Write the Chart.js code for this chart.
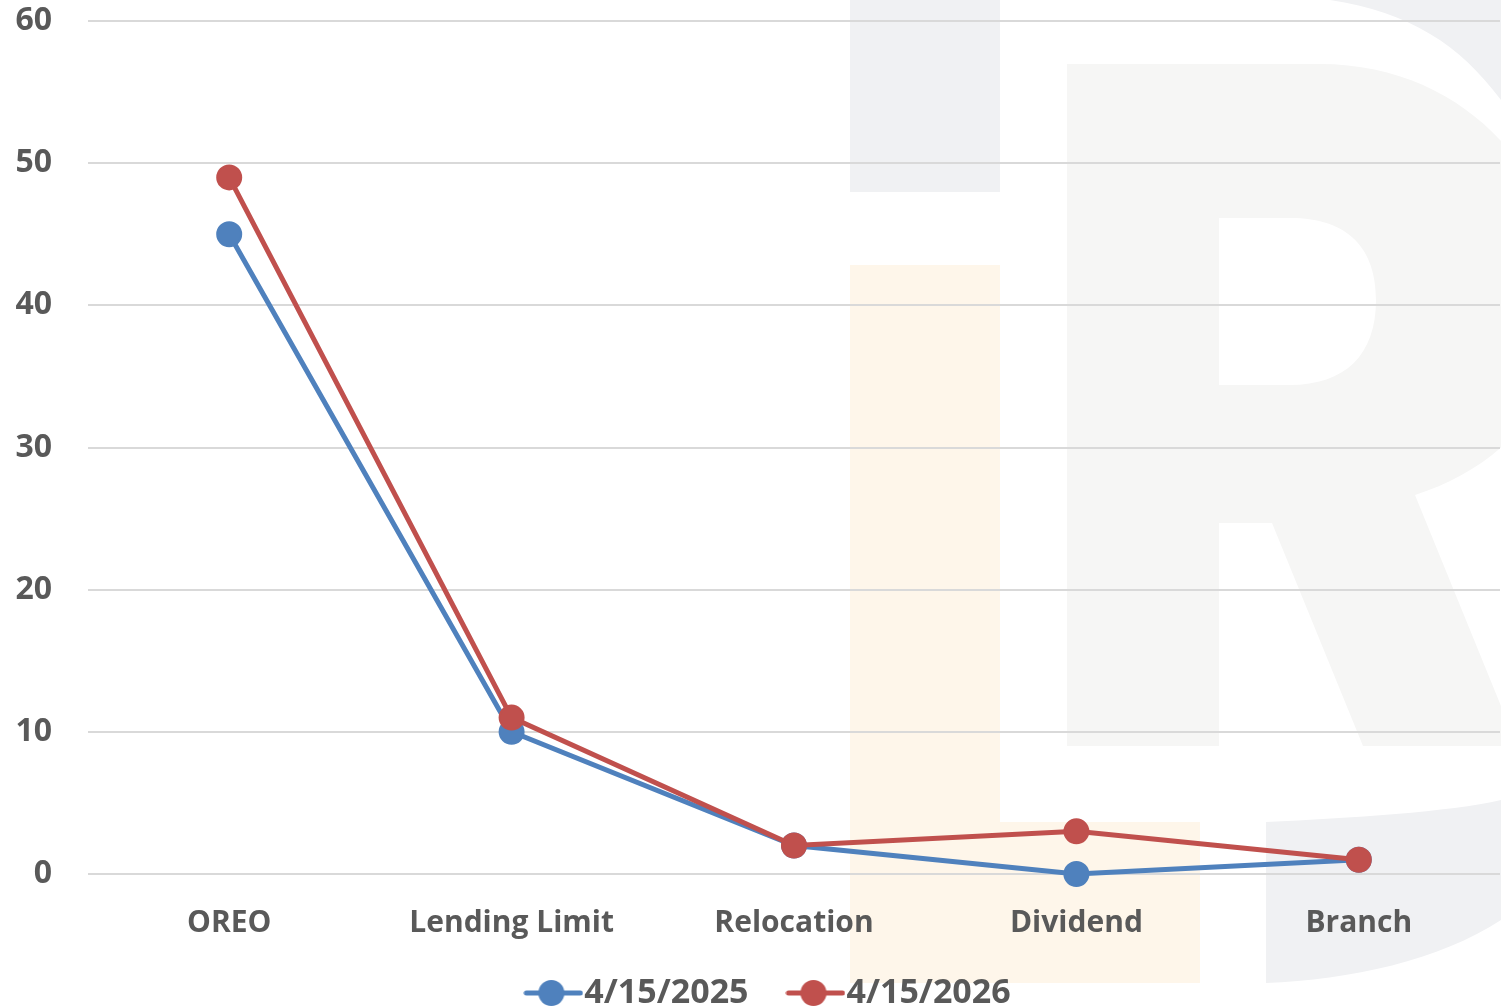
<!DOCTYPE html>
<html>
<head>
<meta charset="utf-8">
<script src="https://cdn.jsdelivr.net/npm/chart.js@4"></script>
<style>
  html, body { margin: 0; padding: 0; background: #fff; overflow: hidden; }
  #wrap { width: 1501px; height: 1007px; }
</style>
</head>
<body>
<div id="wrap"><canvas id="chart"></canvas></div>
<script>
const categories = ['OREO', 'Lending Limit', 'Relocation', 'Dividend', 'Branch'];
const series2025 = [45, 10, 2, 0, 1];
const series2026 = [49, 11, 2, 3, 1];
const seriesNames = ['4/15/2025', '4/15/2026'];
const yTicks = [0, 10, 20, 30, 40, 50, 60];

const BLUE = '#4F81BD';
const RED = '#C0504D';
const TEXT = '#595959';
const FONT = '"Open Sans", Lato, sans-serif';

// little line+dot marker for the legend
function legendMarker(color) {
    const c = document.createElement('canvas');
    c.width = 60; c.height = 28;
    const g = c.getContext('2d');
    g.strokeStyle = color;
    g.lineWidth = 5;
    g.lineCap = 'round';
    g.beginPath(); g.moveTo(3, 14); g.lineTo(57, 14); g.stroke();
    g.fillStyle = color;
    g.beginPath(); g.arc(28, 14, 13, 0, Math.PI * 2); g.fill();
    return c;
}

// faint "IR" logo behind the plot
const watermark = {
    id: 'watermark',
    beforeDraw(chart) {
        const ctx = chart.ctx;
        ctx.save();
        ctx.fillStyle = '#F0F1F3';
        ctx.fillRect(850, 0, 150, 192);
        // outer ring top right
        ctx.beginPath();
        ctx.moveTo(1330, 0); ctx.lineTo(1501, 0); ctx.lineTo(1501, 100);
        ctx.bezierCurveTo(1460, 45, 1410, 12, 1330, 0);
        ctx.closePath(); ctx.fill();
        // lower right swoosh
        ctx.beginPath();
        ctx.moveTo(1266, 822);
        ctx.bezierCurveTo(1350, 818, 1450, 812, 1501, 800);
        ctx.lineTo(1501, 920);
        ctx.bezierCurveTo(1440, 960, 1350, 980, 1266, 983);
        ctx.closePath(); ctx.fill();

        ctx.fillStyle = '#FEF6EA';
        ctx.beginPath();
        ctx.moveTo(850, 265); ctx.lineTo(1000, 265); ctx.lineTo(1000, 822);
        ctx.lineTo(1200, 822); ctx.lineTo(1200, 983); ctx.lineTo(850, 983);
        ctx.closePath(); ctx.fill();

        ctx.fillStyle = '#F6F6F5';
        ctx.beginPath();
        ctx.moveTo(1067, 64); ctx.lineTo(1320, 64);
        ctx.bezierCurveTo(1480, 64, 1580, 200, 1560, 330);
        ctx.bezierCurveTo(1550, 420, 1490, 470, 1415, 495);
        ctx.lineTo(1501, 706); ctx.lineTo(1501, 746); ctx.lineTo(1363, 746);
        ctx.lineTo(1272, 523); ctx.lineTo(1219, 523); ctx.lineTo(1219, 746);
        ctx.lineTo(1067, 746); ctx.closePath();
        ctx.moveTo(1219, 218); ctx.lineTo(1290, 218);
        ctx.bezierCurveTo(1350, 218, 1376, 250, 1376, 300);
        ctx.bezierCurveTo(1376, 355, 1345, 385, 1290, 385);
        ctx.lineTo(1219, 385); ctx.closePath();
        ctx.fill('evenodd');
        ctx.restore();
    }
};

// the legend row sits a bit right of centre in the original
const legendNudge = {
    id: 'legendNudge',
    afterLayout(chart) {
        chart.legend.left += 25;
        chart.legend.right += 25;
    }
};

const ctx = document.getElementById('chart').getContext('2d');
new Chart(ctx, {
    type: 'line',
    data: {
        labels: categories,
        datasets: [
            {
                label: seriesNames[0],
                data: series2025,
                borderColor: BLUE,
                backgroundColor: BLUE,
                borderWidth: 5,
                pointRadius: 12,
                pointBorderWidth: 2,
                pointStyle: 'circle',
                clip: false,
                order: 2,
                marker: legendMarker(BLUE)
            },
            {
                label: seriesNames[1],
                data: series2026,
                borderColor: RED,
                backgroundColor: RED,
                borderWidth: 5,
                pointRadius: 12,
                pointBorderWidth: 2,
                pointStyle: 'circle',
                clip: false,
                order: 1,
                marker: legendMarker(RED)
            }
        ]
    },
    options: {
        responsive: true,
        maintainAspectRatio: false,
        animation: false,
        layout: { autoPadding: false, padding: { top: 21, right: 1, bottom: -13, left: 0 } },
        plugins: {
            tooltip: { enabled: false },
            legend: {
                position: 'bottom',
                labels: {
                    usePointStyle: true,
                    pointStyleWidth: 28,
                    padding: 12,
                    color: TEXT,
                    font: { family: FONT, size: 34, weight: 'bold' },
                    generateLabels(chart) {
                        const n = chart.data.datasets.length;
                        return chart.data.datasets.map((ds, i) => ({
                            // a few trailing spaces widen the gap between the two entries
                            text: i < n - 1 ? ds.label + '\u00A0\u00A0\u00A0\u00A0\u2009' : ds.label,
                            fillStyle: ds.borderColor,
                            strokeStyle: ds.borderColor,
                            pointStyle: ds.marker,
                            fontColor: TEXT,
                            hidden: false,
                            datasetIndex: i
                        }));
                    }
                }
            }
        },
        scales: {
            x: {
                offset: true,
                grid: { display: false },
                border: { display: false },
                afterFit(scale) { scale.paddingLeft = 0; scale.paddingRight = 0; },
                ticks: {
                    color: TEXT,
                    padding: 23,
                    maxRotation: 0,
                    font: { family: FONT, size: 30, weight: 'bold' }
                }
            },
            y: {
                min: 0,
                max: 60,
                afterFit(scale) { scale.width = 88; scale.paddingTop = 0; scale.paddingBottom = 0; },
                afterBuildTicks(scale) { scale.ticks = yTicks.map(v => ({ value: v })); },
                grid: { color: '#D9D9D9', lineWidth: 2, drawTicks: false },
                border: { display: false },
                ticks: {
                    color: TEXT,
                    padding: 36,
                    font: { family: FONT, size: 32, weight: 'bold' }
                }
            }
        }
    },
    plugins: [watermark, legendNudge]
});
</script>
</body>
</html>
